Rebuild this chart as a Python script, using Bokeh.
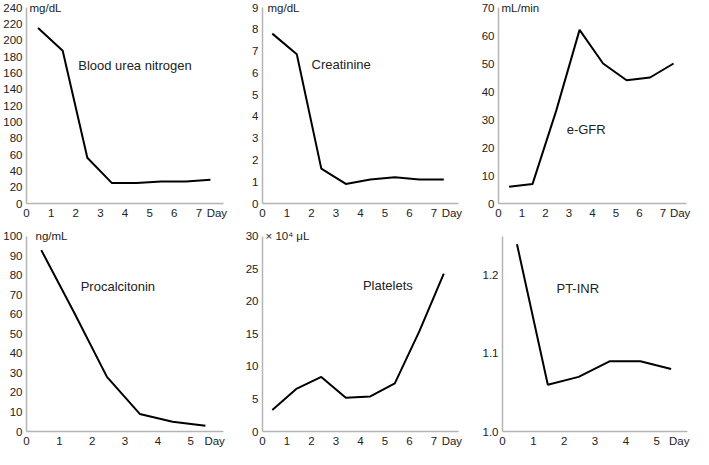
from bokeh.plotting import figure
from bokeh.layouts import column, row
from bokeh.models import FixedTicker, Label, Range1d, NumeralTickFormatter
from bokeh.embed import file_html
from bokeh.resources import INLINE

FONT = "Liberation Sans"

# ---- data ----
bun_day = [0.47, 1.47, 2.47, 3.47, 4.47, 5.47, 6.47, 7.47]
bun_val = [215, 187, 56, 25, 25, 27, 27, 29]

cre_day = [0.4, 1.4, 2.4, 3.4, 4.4, 5.4, 6.4, 7.4]
cre_val = [7.8, 6.85, 1.6, 0.9, 1.1, 1.2, 1.1, 1.1]

gfr_day = [0.45, 1.45, 2.45, 3.45, 4.45, 5.45, 6.45, 7.45]
gfr_val = [6, 7, 33, 62, 50, 44, 45, 50]

pct_day = [0.45, 1.45, 2.45, 3.45, 4.45, 5.45]
pct_val = [93, 61, 28, 9, 5, 3]

plt_day = [0.4, 1.4, 2.4, 3.4, 4.4, 5.4, 6.4, 7.4]
plt_val = [3.3, 6.6, 8.4, 5.2, 5.4, 7.4, 15.4, 24.3]

inr_day = [0.47, 1.47, 2.47, 3.47, 4.47, 5.47]
inr_val = [1.24, 1.06, 1.07, 1.09, 1.09, 1.08]

bun_yticks = list(range(0, 241, 20))
cre_yticks = list(range(0, 10))
gfr_yticks = list(range(0, 71, 10))
pct_yticks = list(range(0, 101, 10))
plt_yticks = list(range(0, 31, 5))
inr_yticks = [1.0, 1.1, 1.2]

AXIS_COLOR = "#b4b4b4"
TEXT_COLOR = "#222222"
TOP_PAD = 7  # px of frame above the top tick, so the unit text is not clipped


def panel(days, vals, ndays, ymin, ymax, yticks, unit, unit_dx, name, name_x,
          name_y, width, height, bl, br, bt, bb, yfmt=None):
    frame_h = height - bt - bb
    yend = ymin + (ymax - ymin) * frame_h / (frame_h - TOP_PAD)
    p = figure(width=width, height=height, output_backend="svg",
               toolbar_location=None,
               x_range=Range1d(0, ndays), y_range=Range1d(ymin, yend),
               min_border_left=bl, min_border_right=br,
               min_border_top=bt, min_border_bottom=bb)
    p.outline_line_color = None
    p.background_fill_color = "white"
    p.border_fill_color = "white"
    p.xgrid.visible = False
    p.ygrid.visible = False

    day_pos = ndays - 0.27
    p.xaxis.ticker = FixedTicker(ticks=list(range(0, ndays)) + [day_pos])
    p.xaxis.major_label_overrides = {day_pos: "Day"}
    p.yaxis.ticker = FixedTicker(ticks=yticks)
    p.yaxis.bounds = (ymin, ymax)
    if yfmt:
        p.yaxis.formatter = NumeralTickFormatter(format=yfmt)

    for ax in (p.xaxis[0], p.yaxis[0]):
        ax.axis_line_color = AXIS_COLOR
        ax.axis_line_width = 1.5
        ax.major_tick_line_color = None
        ax.minor_tick_line_color = None
        ax.major_tick_out = 0
        ax.major_tick_in = 0
        ax.minor_tick_out = 0
        ax.minor_tick_in = 0
        ax.major_label_text_font = FONT
        ax.major_label_text_font_size = "11.5px"
        ax.major_label_text_color = TEXT_COLOR
    p.xaxis.major_label_standoff = 3
    p.yaxis.major_label_standoff = 4

    p.line(days, vals, line_color="black", line_width=2)

    if unit:
        p.add_layout(Label(x=0, y=ymax, x_offset=unit_dx, text=unit,
                           text_font=FONT, text_font_size="11.5px",
                           text_color=TEXT_COLOR, text_baseline="middle",
                           text_align="left"))
    p.add_layout(Label(x=name_x, y=name_y, text=name, text_font=FONT,
                       text_font_size="13px", text_color=TEXT_COLOR,
                       text_baseline="middle", text_align="left"))
    return p


# row 1: height 222, row 2: height 227 ; columns 236 / 238 / 219
p1 = panel(bun_day, bun_val, 8, 0, 240, bun_yticks, "mg/dL", 3,
           "Blood urea nitrogen", 2.1, 169, 236, 222, 25, 13, 0, 19)
p2 = panel(cre_day, cre_val, 8, 0, 9, cre_yticks, "mg/dL", 5,
           "Creatinine", 2.0, 6.4, 238, 222, 26, 16, 0, 19)
p3 = panel(gfr_day, gfr_val, 8, 0, 70, gfr_yticks, "mL/min", 3,
           "e-GFR", 2.9, 26.6, 219, 222, 24, 7, 0, 19)
p4 = panel(pct_day, pct_val, 6, 0, 100, pct_yticks, "ng/mL", 9,
           "Procalcitonin", 1.65, 74.4, 236, 227, 25, 13, 7, 17)
p5 = panel(plt_day, plt_val, 8, 0, 30, plt_yticks, "× 10⁴ μL", 3,
           "Platelets", 4.1, 22.4, 238, 227, 26, 16, 7, 17)
p6 = panel(inr_day, inr_val, 6, 1.0, 1.25, inr_yticks, None, 0,
           "PT-INR", 1.75, 1.183, 219, 227, 28, 6, 7, 17, yfmt="0.0")

layout = column(row(p1, p2, p3), row(p4, p5, p6))

open("out.html", "w").write(file_html(layout, INLINE))
